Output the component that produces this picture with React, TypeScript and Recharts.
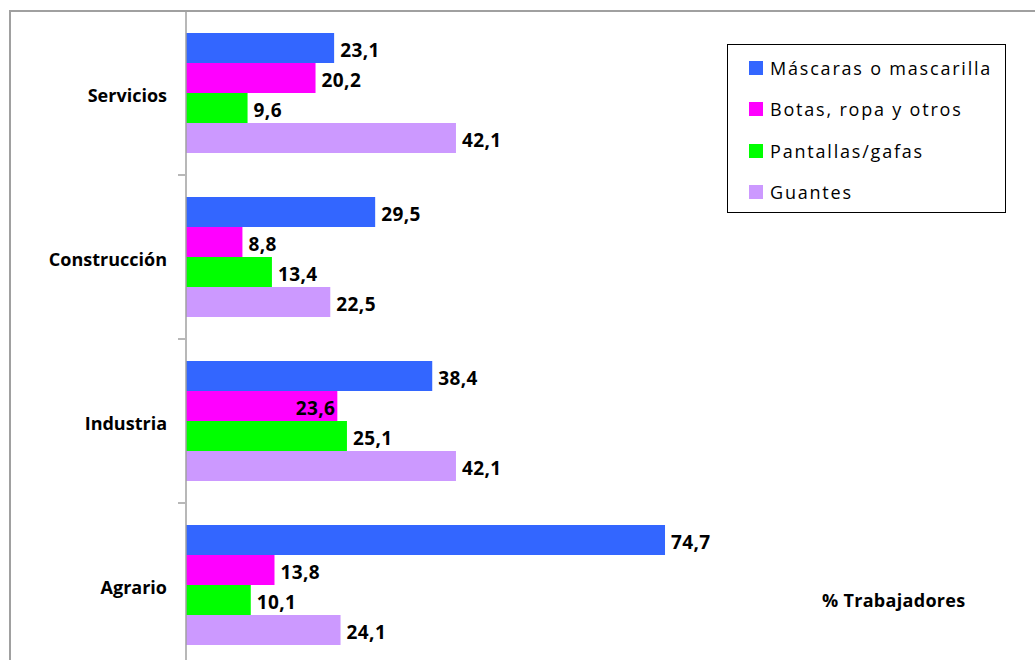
import React from "react";
import { BarChart, Bar, XAxis, YAxis, LabelList } from "recharts";

const categories = ["Servicios", "Construcción", "Industria", "Agrario"];
const mascaras = [23.1, 29.5, 38.4, 74.7];
const botas = [20.2, 8.8, 23.6, 13.8];
const pantallas = [9.6, 13.4, 25.1, 10.1];
const guantes = [42.1, 22.5, 42.1, 24.1];

const seriesInfo = [
  { key: "mascaras", name: "Máscaras o mascarilla", color: "#3366FF" },
  { key: "botas", name: "Botas, ropa y otros", color: "#FF00FF" },
  { key: "pantallas", name: "Pantallas/gafas", color: "#00FF00" },
  { key: "guantes", name: "Guantes", color: "#CC99FF" },
];

const data = categories.map((name, i) => ({
  name,
  mascaras: mascaras[i],
  botas: botas[i],
  pantallas: pantallas[i],
  guantes: guantes[i],
}));

const FONT = "'Open Sans', sans-serif";
const CHART_W = 1035;
const CHART_H = 680;
const MARGIN = { top: 11, right: 336, bottom: 13, left: 0 };
const BAND = (CHART_H - MARGIN.top - MARGIN.bottom) / categories.length;

const fmt = (v: number) => v.toFixed(1).replace(".", ",");

// Excel put this one label inside its bar
const insideLabel = { category: "Industria", key: "botas" };

const makeLabel = (key: string) => (props: any) => {
  const { x, y, width, height, value, index } = props;
  const inside = categories[index] === insideLabel.category && key === insideLabel.key;
  return (
    <text
      x={inside ? x + width - 2 : x + width + 6}
      y={y + height / 2 + 2}
      dy="0.36em"
      textAnchor={inside ? "end" : "start"}
      fontFamily={FONT}
      fontSize={19}
      fontWeight={700}
      letterSpacing={0.4}
      fill="#000"
    >
      {fmt(Number(value))}
    </text>
  );
};

const CategoryTick = (props: any) => {
  const { x, y, payload, index } = props;
  return (
    <g>
      <line x1={x} x2={x + 7} y1={y - BAND / 2} y2={y - BAND / 2} stroke="#a0a0a0" strokeWidth={1.5} />
      {index === categories.length - 1 && (
        <line x1={x} x2={x + 7} y1={y + BAND / 2} y2={y + BAND / 2} stroke="#a0a0a0" strokeWidth={1.5} />
      )}
      <text
        x={x - 11}
        y={y + 3}
        dy="0.36em"
        textAnchor="end"
        fontFamily={FONT}
        fontSize={18}
        fontWeight={700}
        fill="#000"
      >
        {payload.value}
      </text>
    </g>
  );
};

const LegendBox = () => (
  <div
    style={{
      position: "absolute",
      left: 727,
      top: 44,
      width: 279,
      height: 169,
      border: "1.5px solid #000",
      background: "#fff",
      boxSizing: "border-box",
      padding: "2px 0 0 21px",
      fontFamily: FONT,
      fontSize: 18,
      letterSpacing: 1.8,
      color: "#000",
    }}
  >
    {seriesInfo.map((s) => (
      <div key={s.key} style={{ display: "flex", alignItems: "center", height: 41.5 }}>
        <span style={{ width: 14, height: 14, background: s.color, marginRight: 7, display: "inline-block" }} />
        <span>{s.name}</span>
      </div>
    ))}
  </div>
);

export default function App() {
  return (
    <div
      style={{
        position: "fixed",
        left: 0,
        top: 0,
        width: 1035,
        height: 660,
        overflow: "hidden",
        background: "#fff",
      }}
    >
      <div
        style={{
          position: "absolute",
          left: 8.5,
          top: 9.5,
          width: 2000,
          height: 2000,
          border: "2px solid #a0a0a0",
        }}
      />
      <div style={{ position: "absolute", left: 0, top: 0 }}>
        <BarChart
          width={CHART_W}
          height={CHART_H}
          data={data}
          layout="vertical"
          margin={MARGIN}
          barGap={0}
          barSize={30}
        >
          <XAxis type="number" domain={[0, 80]} hide />
          <YAxis
            type="category"
            dataKey="name"
            width={186}
            axisLine={{ stroke: "#a0a0a0", strokeWidth: 1.5 }}
            tickLine={false}
            tick={<CategoryTick />}
            interval={0}
          />
          {seriesInfo.map((s) => (
            <Bar key={s.key} dataKey={s.key} name={s.name} fill={s.color} isAnimationActive={false}>
              <LabelList dataKey={s.key} content={makeLabel(s.key)} />
            </Bar>
          ))}
        </BarChart>
      </div>
      <LegendBox />
      <div
        style={{
          position: "absolute",
          left: 822,
          top: 588,
          fontFamily: FONT,
          fontSize: 18,
          fontWeight: 700,
          letterSpacing: 0.3,
          color: "#000",
          whiteSpace: "nowrap",
        }}
      >
        % Trabajadores
      </div>
    </div>
  );
}
